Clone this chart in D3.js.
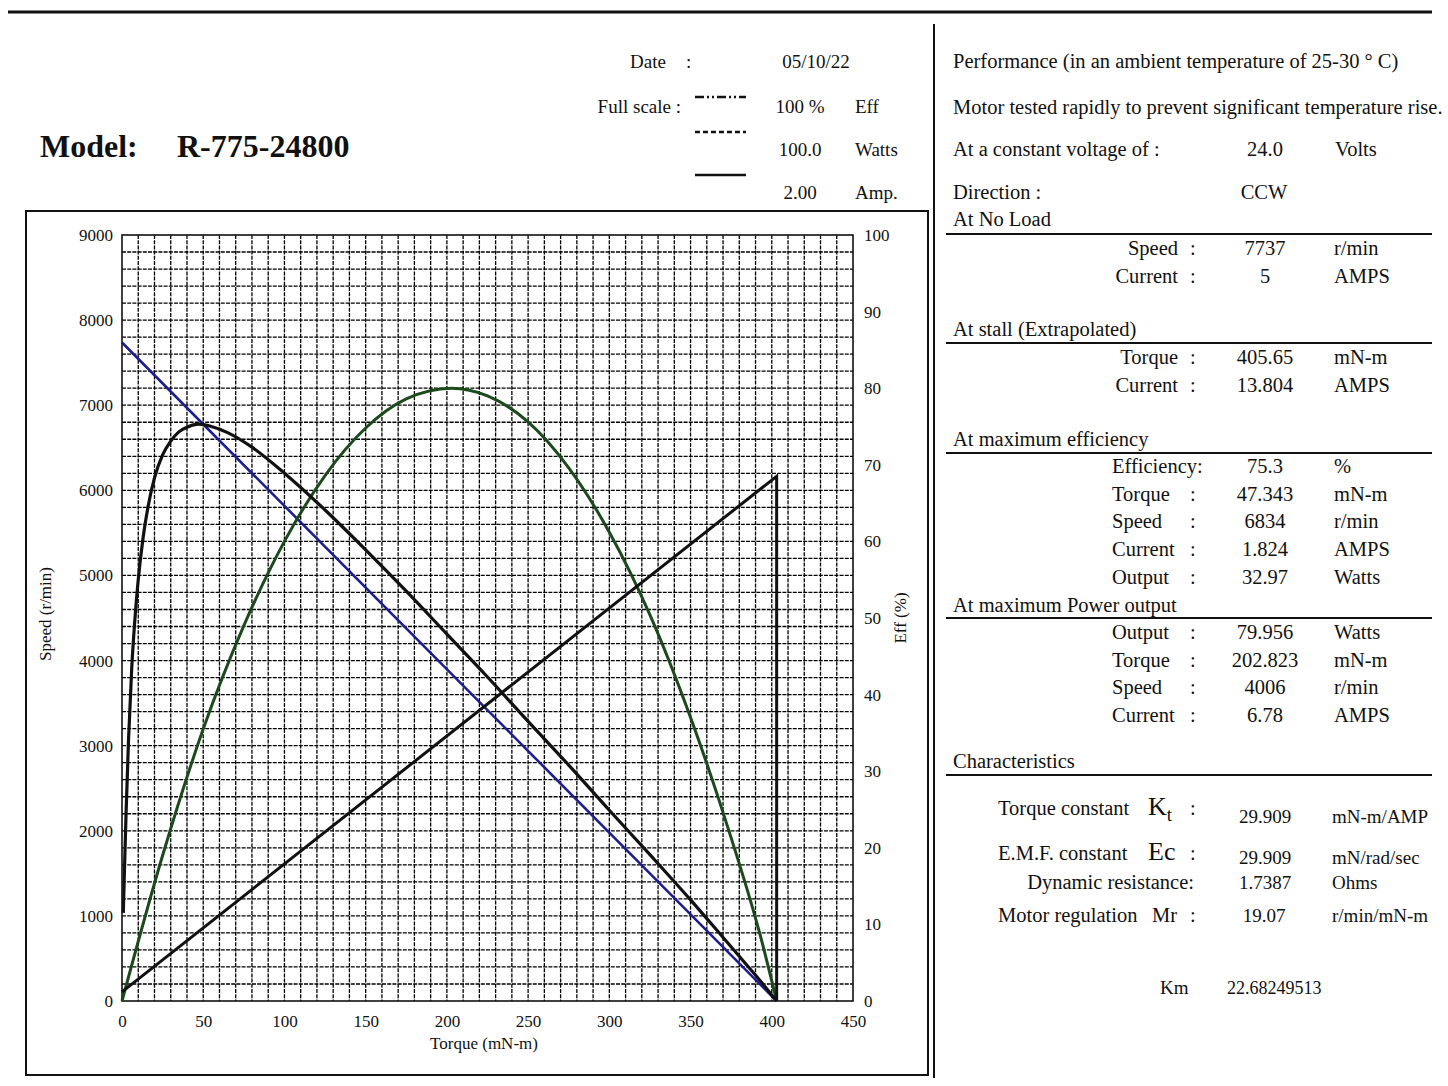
<!DOCTYPE html>
<html>
<head>
<meta charset="utf-8">
<script src="https://cdn.jsdelivr.net/npm/d3@7"></script>
<style>
  body { margin: 0; background: #fff; }
  svg text { font-family: "Liberation Serif", "Times New Roman", serif; fill: #111; }
</style>
</head>
<body>
<svg id="chart" width="1448" height="1086"></svg>
<script>
// ---- chart data ----
var torqueTicks = [0, 50, 100, 150, 200, 250, 300, 350, 400, 450];
var speedTicks = [0, 1000, 2000, 3000, 4000, 5000, 6000, 7000, 8000, 9000];
var effTicks = [0, 10, 20, 30, 40, 50, 60, 70, 80, 90, 100];

// speed vs torque (r/min)
var speedLine = [[0, 7737], [403, 0]];
// current vs torque (A), then drop at stall
var currentLine = [[0, 0.24], [403, 13.7], [403, 0]];
// efficiency vs torque (%)
var effCurve = [[0.8, 11.5], [1.5, 17], [2.5, 24.5], [4, 34], [6, 43.5], [8, 50], [10, 55], [13, 60.5],
  [16, 64.5], [20, 68.3], [25, 71.3], [30, 73.1], [35, 74.3], [40, 74.9], [47.3, 75.3], [55, 75],
  [65, 74.2], [80, 72.3], [100, 68.9], [125, 64.1], [150, 58.9], [175, 53.5], [200, 47.9], [225, 42.3],
  [250, 36.5], [275, 30.8], [300, 24.9], [325, 19.1], [350, 13.2], [370, 8.3], [385, 4.6], [395, 2.1], [403, 0]];
// output power vs torque (W)
var powerCurve = [[0, 0], [25, 19], [50, 35.5], [75, 49], [100, 60], [125, 68.6], [150, 74.8],
  [175, 78.6], [202.8, 80], [225, 79], [250, 75.6], [275, 69.6], [300, 61.2], [325, 50.4], [350, 37],
  [375, 21.3], [393, 8.5], [403, 0]];

// ---- header / info panel text ----
var headerRows = [
  ["Date", ":", "05/10/22", ""],
  ["Full scale :", "", "100 %", "Eff"],
  ["", "", "100.0", "Watts"],
  ["", "", "2.00", "Amp."]
];
var introLines = [
  "Performance (in an ambient temperature of 25-30 \u00b0 C)",
  "Motor tested rapidly to prevent significant temperature rise."
];
var noLoadRows = [["Speed", "7737", "r/min"], ["Current", "5", "AMPS"]];
var stallRows = [["Torque", "405.65", "mN-m"], ["Current", "13.804", "AMPS"]];
var maxEffRows = [["Efficiency:", "75.3", "%"], ["Torque", "47.343", "mN-m"], ["Speed", "6834", "r/min"],
  ["Current", "1.824", "AMPS"], ["Output", "32.97", "Watts"]];
var maxPowerRows = [["Output", "79.956", "Watts"], ["Torque", "202.823", "mN-m"], ["Speed", "4006", "r/min"],
  ["Current", "6.78", "AMPS"]];

var svg = d3.select("#chart");

// frame lines
svg.append("line").attr("x1", 8).attr("x2", 1432).attr("y1", 12).attr("y2", 12)
  .attr("stroke", "#111").attr("stroke-width", 3);
svg.append("line").attr("x1", 934).attr("x2", 934).attr("y1", 24).attr("y2", 1078)
  .attr("stroke", "#111").attr("stroke-width", 2);
svg.append("rect").attr("x", 26).attr("y", 211).attr("width", 902).attr("height", 864)
  .attr("fill", "none").attr("stroke", "#111").attr("stroke-width", 2);

// ---- scales ----
var x = d3.scaleLinear().domain([0, 450]).range([122, 853]);
var ySpeed = d3.scaleLinear().domain([0, 9000]).range([1001, 235]);
var yPct = d3.scaleLinear().domain([0, 100]).range([1001, 235]);
var yAmp = d3.scaleLinear().domain([0, 20]).range([1001, 235]);
var yWatt = d3.scaleLinear().domain([0, 100]).range([1001, 235]);

// grid
var grid = svg.append("g");
grid.selectAll(".gx").data(d3.range(10, 450, 10)).enter().append("line")
  .attr("x1", d => x(d)).attr("x2", d => x(d)).attr("y1", ySpeed(9000)).attr("y2", ySpeed(0))
  .attr("stroke", "#000").attr("stroke-width", 1.3).attr("stroke-dasharray", "4,1.2");
grid.selectAll(".gy").data(d3.range(200, 9000, 200)).enter().append("line")
  .attr("y1", d => ySpeed(d)).attr("y2", d => ySpeed(d)).attr("x1", x(0)).attr("x2", x(450))
  .attr("stroke", "#000").attr("stroke-width", 1.3).attr("stroke-dasharray", "4,1.2");
svg.append("rect").attr("x", x(0)).attr("y", ySpeed(9000))
  .attr("width", x(450) - x(0)).attr("height", ySpeed(0) - ySpeed(9000))
  .attr("fill", "none").attr("stroke", "#111").attr("stroke-width", 1.6);

// axes
function styleAxis(g) {
  g.select(".domain").remove();
  g.selectAll("text").style("font-family", "Liberation Serif, serif").style("font-size", "17px").attr("fill", "#111");
}
svg.append("g").attr("transform", "translate(" + x(0) + ",0)")
  .call(d3.axisLeft(ySpeed).tickValues(speedTicks).tickSize(0).tickPadding(9).tickFormat(d3.format("d")))
  .call(styleAxis);
svg.append("g").attr("transform", "translate(" + x(450) + ",0)")
  .call(d3.axisRight(yPct).tickValues(effTicks).tickSize(0).tickPadding(11).tickFormat(d3.format("d")))
  .call(styleAxis);
svg.append("g").attr("transform", "translate(0," + ySpeed(0) + ")")
  .call(d3.axisBottom(x).tickValues(torqueTicks).tickSize(0).tickPadding(14).tickFormat(d3.format("d")))
  .call(styleAxis);

svg.append("text").attr("x", 484).attr("y", 1049).attr("text-anchor", "middle")
  .style("font-size", "17px").text("Torque (mN-m)");
svg.append("text").attr("transform", "translate(51,614) rotate(-90)").attr("text-anchor", "middle")
  .style("font-size", "17px").text("Speed (r/min)");
svg.append("text").attr("transform", "translate(906,618) rotate(-90)").attr("text-anchor", "middle")
  .style("font-size", "17px").text("Eff (%)");

// curves
var plot = svg.append("g");
plot.append("path").datum(speedLine)
  .attr("d", d3.line().x(d => x(d[0])).y(d => ySpeed(d[1])))
  .attr("fill", "none").attr("stroke", "#1d1d8f").attr("stroke-width", 2.6);
plot.append("path").datum(powerCurve)
  .attr("d", d3.line().x(d => x(d[0])).y(d => yWatt(d[1])).curve(d3.curveMonotoneX))
  .attr("fill", "none").attr("stroke", "#1c4a1c").attr("stroke-width", 3);
plot.append("path").datum(currentLine)
  .attr("d", d3.line().x(d => x(d[0])).y(d => yAmp(d[1])))
  .attr("fill", "none").attr("stroke", "#111").attr("stroke-width", 3).attr("stroke-linejoin", "miter");
plot.append("path").datum(effCurve)
  .attr("d", d3.line().x(d => x(d[0])).y(d => yPct(d[1])).curve(d3.curveMonotoneX))
  .attr("fill", "none").attr("stroke", "#111").attr("stroke-width", 3.2);

// ---- header ----
svg.append("text").attr("x", 40).attr("y", 157).style("font-size", "32px").style("font-weight", "bold").text("Model:");
svg.append("text").attr("x", 177).attr("y", 157).style("font-size", "32px").style("font-weight", "bold").text("R-775-24800");

var hy = [68, 113, 156, 199];
headerRows.forEach(function (r, i) {
  if (i === 0) {
    svg.append("text").attr("x", 630).attr("y", hy[i]).style("font-size", "19px").text(r[0]);
    svg.append("text").attr("x", 686).attr("y", hy[i]).style("font-size", "19px").text(r[1]);
  } else if (r[0]) {
    svg.append("text").attr("x", 681).attr("y", hy[i]).attr("text-anchor", "end").style("font-size", "19px").text(r[0]);
  }
  svg.append("text").attr("x", i === 0 ? 816 : 800).attr("y", hy[i]).attr("text-anchor", "middle").style("font-size", "19px").text(r[2]);
  if (r[3]) svg.append("text").attr("x", 855).attr("y", hy[i]).style("font-size", "19px").text(r[3]);
});
var legendStyles = [["9,3,2,3,2,3", 97], ["5,3", 132], [null, 175]];
legendStyles.forEach(function (s) {
  var l = svg.append("line").attr("x1", 695).attr("x2", 746).attr("y1", s[1]).attr("y2", s[1])
    .attr("stroke", "#111").attr("stroke-width", 2.4);
  if (s[0]) l.attr("stroke-dasharray", s[0]);
});

// ---- info panel ----
var fs = "20.5px";
function txt(xp, yp, s, anchor, size) {
  return svg.append("text").attr("x", xp).attr("y", yp).attr("text-anchor", anchor || "start")
    .style("font-size", size || fs).text(s);
}
function rule(yp) {
  svg.append("line").attr("x1", 946).attr("x2", 1432).attr("y1", yp).attr("y2", yp)
    .attr("stroke", "#111").attr("stroke-width", 2);
}
txt(953, 68, introLines[0]);
txt(953, 114, introLines[1]);
txt(953, 156, "At a constant voltage of :");
txt(1265, 156, "24.0", "middle");
txt(1335, 156, "Volts");
txt(953, 199, "Direction  :");
txt(1264, 199, "CCW", "middle");

function section(title, ty, ly, rows, y0, step, alignEnd) {
  txt(953, ty, title);
  rule(ly);
  rows.forEach(function (r, i) {
    var yy = y0 + i * step;
    if (alignEnd) txt(1178, yy, r[0], "end");
    else txt(1112, yy, r[0]);
    if (r[0].indexOf(":") < 0) txt(1190, yy, ":");
    txt(1265, yy, r[1], "middle");
    txt(1334, yy, r[2]);
  });
}
section("At No Load", 226, 234, noLoadRows, 255, 27.5, true);
section("At stall (Extrapolated)", 336, 343, stallRows, 364, 27.5, true);
section("At maximum efficiency", 446, 453, maxEffRows, 473, 27.7, false);
section("At maximum Power output", 612, 618, maxPowerRows, 639, 27.7, false);

var cs = "19px";
txt(953, 768, "Characteristics");
rule(775);
txt(998, 815, "Torque constant");
var kt = txt(1148, 815, "K", "start", "26px");
kt.append("tspan").attr("dy", 6).style("font-size", "19px").text("t");
txt(1190, 815, ":");
txt(1265, 823, "29.909", "middle", cs);
txt(1332, 823, "mN-m/AMP", "start", cs);
txt(998, 860, "E.M.F. constant");
txt(1148, 860, "Ec", "start", "26px");
txt(1190, 860, ":");
txt(1265, 864, "29.909", "middle", cs);
txt(1332, 864, "mN/rad/sec", "start", cs);
txt(1194, 889, "Dynamic resistance:", "end");
txt(1265, 889, "1.7387", "middle", cs);
txt(1332, 889, "Ohms", "start", cs);
txt(998, 922, "Motor regulation");
txt(1152, 922, "Mr");
txt(1190, 922, ":");
txt(1264, 922, "19.07", "middle", cs);
txt(1332, 922, "r/min/mN-m", "start", cs);
txt(1160, 994, "Km", "start", cs);
txt(1227, 994, "22.68249513", "start", "18px");
</script>
</body>
</html>
